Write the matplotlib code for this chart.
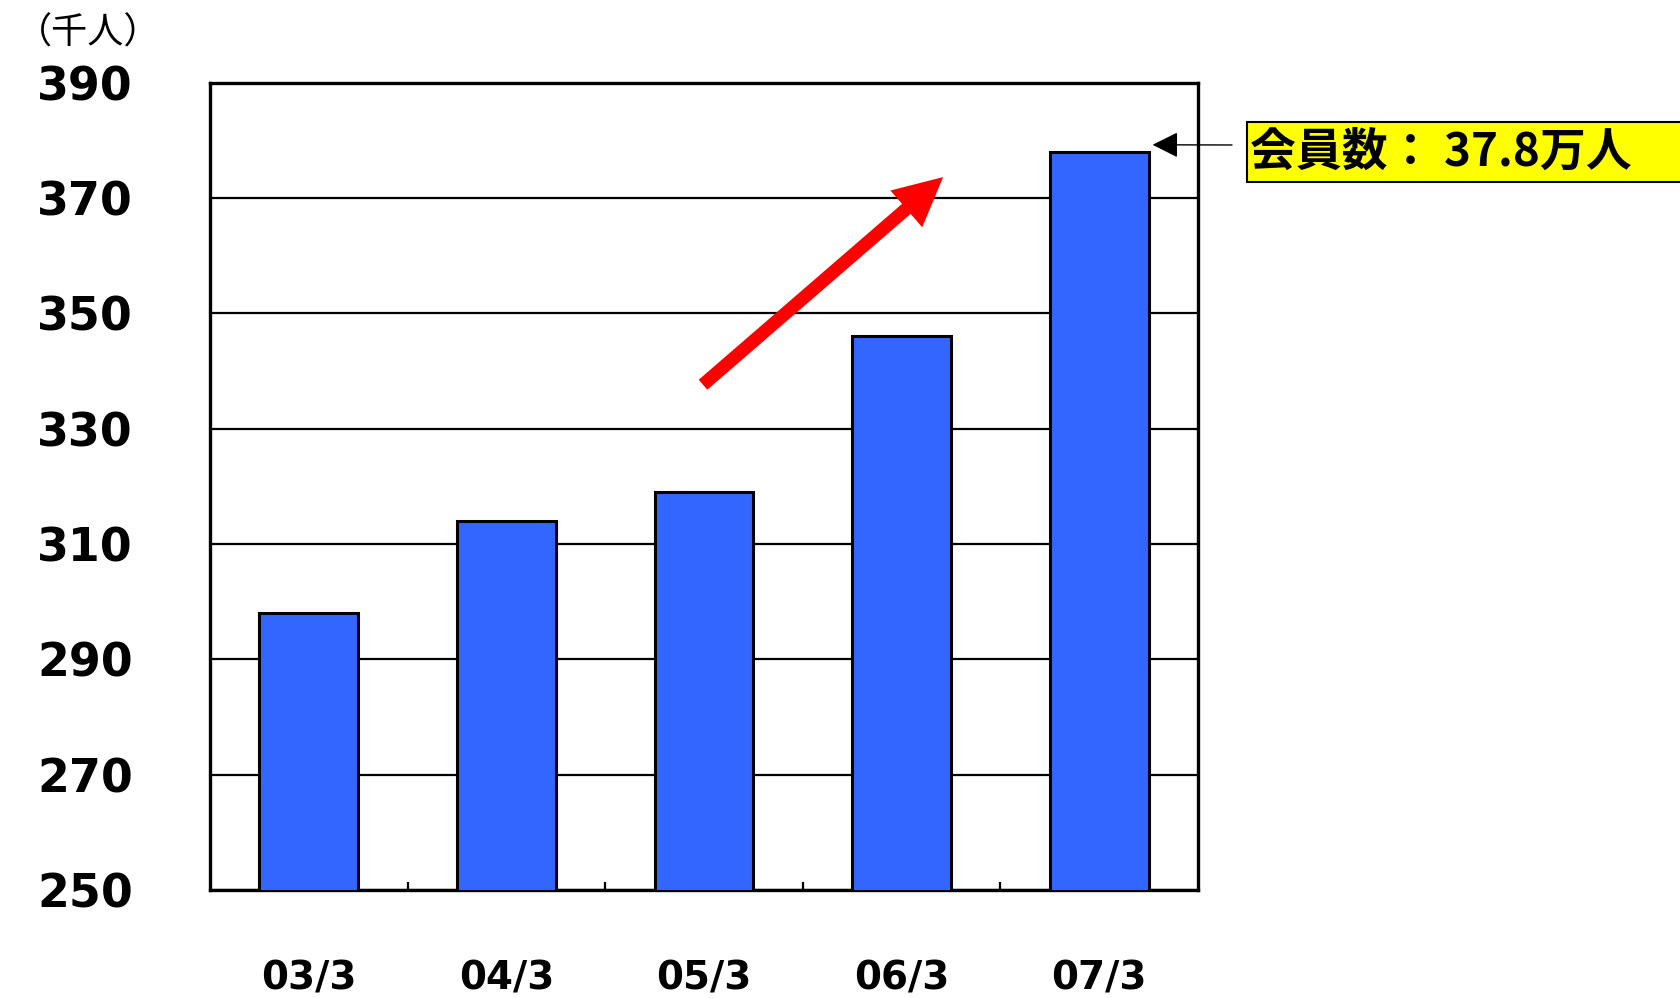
import matplotlib
matplotlib.use("Agg")
import matplotlib.pyplot as plt
from matplotlib.patches import Rectangle

plt.rcParams['font.family'] = ['Noto Sans CJK JP', 'DejaVu Sans']

periods = ['03/3', '04/3', '05/3', '06/3', '07/3']
members = [298, 314, 319, 346, 378]   # 千人
yticks = [250, 270, 290, 310, 330, 350, 370, 390]
callout = '会員数： 37.8万人'
unit = '（千人）'
# trend arrow, data coords
trend_from = (1.995, 337.6)
trend_to = (3.21, 373.6)

W, H = 1680, 998
fig = plt.figure(figsize=(16.8, 9.98), dpi=100)
ax = fig.add_axes([210/W, 1-890/H, (1198-210)/W, (890-82.5)/H])

x = range(len(periods))
bw = 0.5
ax.bar(x, members, width=bw, color='#3366FF', edgecolor='black', linewidth=2.2, zorder=3)

ax.set_xlim(-0.5, len(periods)-0.5)
ax.set_ylim(yticks[0], yticks[-1])
ax.set_yticks(yticks)
ax.set_yticklabels([str(v) for v in yticks], family='DejaVu Sans', fontweight='bold', fontsize=33)
for lab in ax.get_yticklabels():
    lab.set_ha('center')
ax.tick_params(axis='y', length=0, pad=90)

ax.set_xticks(list(x))
ax.set_xticklabels(periods, family='DejaVu Sans', fontweight='bold', fontsize=28)
ax.tick_params(axis='x', length=0, pad=50)
ax.set_xticks([i+0.5 for i in range(len(periods)-1)], minor=True)
ax.tick_params(axis='x', which='minor', direction='in', length=6, width=1.6, color='black')

ax.yaxis.grid(True, color='black', linewidth=1.6)
ax.set_axisbelow(True)
for s in ax.spines.values():
    s.set_linewidth(2.4)
    s.set_color('black')

# red trend arrow
ax.annotate('', xy=trend_to, xytext=trend_from,
            arrowprops=dict(width=9.5, headwidth=35, headlength=35, color='red', lw=0),
            zorder=5)

# callout box at the right
fig.patches.append(Rectangle((1247/W, 1-182/H), 500/W, 60/H, transform=fig.transFigure,
                             facecolor='yellow', edgecolor='black', linewidth=1.5, clip_on=False))
fig.text(1250/W, 1-153/H, callout, fontsize=33, fontweight='bold', va='center', ha='left')
ax.annotate('', xy=(len(periods)-1 + bw/2 + 0.02, members[-1] + 1.2),
            xytext=(1232, H-145), textcoords='figure pixels',
            arrowprops=dict(arrowstyle='-|>', mutation_scale=40, color='black', lw=1,
                            shrinkA=0, shrinkB=0),
            annotation_clip=False)

fig.text(88/W, 1-34/H, unit, fontsize=26, ha='center', va='center')

fig.savefig('out.png', dpi=100)
